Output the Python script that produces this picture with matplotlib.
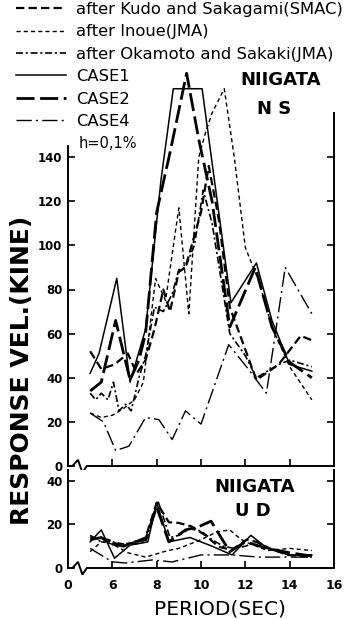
"""Response velocity spectra, NIIGATA NS / UD"""

import matplotlib.pyplot as plt
from matplotlib.lines import Line2D

plt.rcParams['font.family'] = 'DejaVu Sans'
plt.rcParams['lines.scale_dashes'] = False

# ---- NIIGATA NS (period sec, velocity kine)
ns_kudo_t = [5.0, 5.5, 6.1, 6.7, 7.1, 7.5, 7.9, 8.3, 8.6, 9.0, 9.3, 10.0, 10.35, 10.8, 11.3, 12.5, 13.5, 14.5, 15.0]
ns_kudo_v = [52, 44, 46, 51, 42, 48, 62, 80, 70, 88, 90, 115, 136, 112, 72, 39, 46, 59, 57]

ns_inoue_t = [5.0, 5.5, 6.0, 6.5, 7.0, 7.4, 7.6, 7.95, 8.4, 9.0, 9.45, 9.9, 10.2, 10.5, 11.05, 11.5, 12.0, 12.6, 13.2, 14.0, 15.0]
ns_inoue_v = [24, 22, 23, 26, 30, 38, 55, 85, 75, 117, 69, 140, 151, 160, 171, 140, 99, 84, 63, 45, 30]

ns_okamoto_t = [5.0, 5.25, 5.5, 5.8, 6.05, 6.3, 6.6, 6.85, 7.2, 7.5, 7.9, 8.3, 8.7, 9.0, 9.3, 9.7, 10.1, 10.5, 11.3, 12.0, 12.5, 13.5, 14.0, 15.0]
ns_okamoto_v = [33, 30, 33, 30, 38, 25, 28, 25, 40, 50, 72, 70, 78, 89, 90, 100, 125, 110, 60, 50, 40, 46, 48, 45]

ns_case1_t = [5.0, 5.4, 6.2, 6.8, 7.5, 8.2, 8.75, 10.05, 11.35, 12.5, 13.2, 14.0, 15.0]
ns_case1_v = [42, 51, 85, 38, 62, 130, 171, 171, 74, 92, 66, 46, 43]

ns_case2_t = [5.0, 5.5, 6.15, 6.8, 7.2, 7.5, 8.0, 8.6, 9.35, 9.9, 10.5, 11.3, 12.45, 13.2, 14.0, 15.0]
ns_case2_v = [34, 38, 66, 39, 48, 60, 115, 142, 178, 148, 120, 63, 90, 63, 47, 40]

ns_case4_t = [5.0, 5.6, 6.15, 6.75, 7.5, 8.1, 8.7, 9.3, 10.0, 11.25, 12.05, 12.95, 13.8, 15.0]
ns_case4_v = [24, 20, 7, 9, 22, 21, 12, 25, 19, 55, 45, 33, 90, 69]

# ---- NIIGATA UD
ud_kudo_t = [5.0, 5.8, 6.3, 6.9, 7.5, 8.0, 8.4, 8.55, 9.0, 9.6, 10.2, 10.8, 11.4, 12.05, 12.5, 13.1, 13.9, 14.9]
ud_kudo_v = [14, 13, 10.6, 11.5, 14, 30, 23.5, 21, 20.7, 19, 15, 9.7, 8.3, 13, 12, 9, 6, 5]

ud_inoue_t = [5.0, 5.5, 6.0, 6.7, 7.5, 8.5, 9.0, 10.0, 10.7, 11.3, 11.7, 12.0, 13.0, 14.0, 15.0]
ud_inoue_v = [7.5, 12, 11, 7, 5, 8, 9, 13, 16.5, 17.5, 14, 12, 8, 9, 8]

ud_okamoto_t = [5.0, 5.5, 6.0, 6.5, 7.0, 7.5, 8.05, 8.6, 9.0, 9.5, 10.0, 10.5, 11.0, 11.5, 12.0, 12.5, 13.0, 14.0, 15.0]
ud_okamoto_v = [15, 12, 12, 11, 11, 12, 31, 14, 15, 18, 17, 13, 10, 9, 10, 12, 9, 6, 6]

ud_case1_t = [5.0, 5.5, 6.1, 6.8, 7.6, 8.0, 8.55, 9.5, 10.5, 11.4, 12.25, 13.0, 14.0, 15.0]
ud_case1_v = [12, 17.5, 4.5, 10.5, 12, 30, 12, 14, 10, 6, 15, 9, 6, 6]

ud_case2_t = [5.0, 5.5, 6.0, 6.5, 7.0, 7.5, 8.0, 8.55, 9.3, 9.9, 10.45, 11.3, 12.0, 13.0, 14.0, 15.0]
ud_case2_v = [13, 14, 11, 10, 12, 13, 28, 12, 17.5, 19, 21.5, 7.5, 12, 9, 7, 5.5]

ud_case4_t = [5.0, 6.0, 6.6, 7.8, 8.7, 10.0, 11.4, 12.6, 15.0]
ud_case4_v = [9, 2.8, 2.3, 3.7, 2.8, 6, 6, 5, 5]

labels = [
    "after Kudo and Sakagami(SMAC)",
    "after Inoue(JMA)",
    "after Okamoto and Sakaki(JMA)",
    "CASE1",
    "CASE2",
    "CASE4",
]
styles = [
    dict(lw=1.6, dashes=(6, 3)),
    dict(lw=1.0, dashes=(3, 2.2)),
    dict(lw=1.2, dashes=(5, 2, 1.5, 2)),
    dict(lw=1.1, linestyle='-'),
    dict(lw=2.0, dashes=(13, 4)),
    dict(lw=1.0, dashes=(11, 3, 1.5, 3)),
]

ns_series = [
    (ns_kudo_t, ns_kudo_v), (ns_inoue_t, ns_inoue_v), (ns_okamoto_t, ns_okamoto_v),
    (ns_case1_t, ns_case1_v), (ns_case2_t, ns_case2_v), (ns_case4_t, ns_case4_v),
]
ud_series = [
    (ud_kudo_t, ud_kudo_v), (ud_inoue_t, ud_inoue_v), (ud_okamoto_t, ud_okamoto_v),
    (ud_case1_t, ud_case1_v), (ud_case2_t, ud_case2_v), (ud_case4_t, ud_case4_v),
]


def style_axes(ax, ymax, yticks, left_top):
    ax.set_xlim(4, 16)
    ax.set_ylim(0, ymax)
    ax.spines['top'].set_visible(False)
    ax.spines['bottom'].set_visible(False)
    ax.spines['left'].set_bounds(0, left_top)
    for s in ('left', 'right'):
        ax.spines[s].set_linewidth(1.4)
    ax.set_yticks(yticks)
    ax.tick_params(axis='y', direction='in', length=5, width=1.2, right=True,
                   labelsize=8.5, pad=4)
    ax.tick_params(axis='x', direction='in', length=5, width=1.2, labelsize=9, pad=8)
    for lab in ax.get_yticklabels() + ax.get_xticklabels():
        lab.set_fontweight('bold')
    # broken axis line with zigzag near the origin
    ax.plot([4, 4.2, 4.45, 4.65, 4.85, 16], [0, 0, 2.8, -3.0, 0, 0],
            color='black', lw=1.4, clip_on=False, solid_joinstyle='miter')


fig = plt.figure(figsize=(3.51, 6.19), dpi=100)
ax1 = fig.add_axes([68 / 351, 1 - 466 / 619, 266 / 351, 353 / 619])
ax2 = fig.add_axes([68 / 351, 1 - 568 / 619, 266 / 351, 98 / 619])

for (t, v), st in zip(ns_series, styles):
    ax1.plot(t, v, color='black', clip_on=False, **st)
for (t, v), st in zip(ud_series, styles):
    ax2.plot(t, v, color='black', clip_on=False, **st)

style_axes(ax1, 160, range(0, 141, 20), 145)
style_axes(ax2, 45, [0, 20, 40], 45)

ax1.set_xticks([6, 8, 10, 12, 14])
ax1.set_xticklabels([])
ax2.set_xticks([4, 6, 8, 10, 12, 14, 16])
ax2.set_xticklabels(['0', '6', '8', '10', '12', '14', '16'], fontweight='bold')

ax1.text(281 / 351, 1 - 80 / 619, "NIIGATA", transform=fig.transFigure,
         ha='center', va='center', fontsize=13, fontweight='bold')
ax1.text(274 / 351, 1 - 109 / 619, "N S", transform=fig.transFigure,
         ha='center', va='center', fontsize=13, fontweight='bold')
ax2.text(255 / 351, 1 - 487 / 619, "NIIGATA", transform=fig.transFigure,
         ha='center', va='center', fontsize=13, fontweight='bold')
ax2.text(253 / 351, 1 - 511 / 619, "U D", transform=fig.transFigure,
         ha='center', va='center', fontsize=13, fontweight='bold')
fig.text(108 / 351, 1 - 143 / 619, "h=0,1%", ha='center', va='center', fontsize=10.5)

fig.text(22 / 351, 1 - 370 / 619, "RESPONSE VEL.(KINE)", rotation=90,
         ha='center', va='center', fontsize=18, fontweight='bold')
fig.text(220 / 351, 1 - 609 / 619, "PERIOD(SEC)", ha='center', va='center',
         fontsize=14.5)

handles = [Line2D([], [], color='black', **st) for st in styles]
fig.legend(handles, labels, loc='upper left', bbox_to_anchor=(16 / 351, 1 - 2 / 619),
           frameon=False, fontsize=11.8, handlelength=3.05, handletextpad=0.6,
           labelspacing=0.45, borderpad=0, borderaxespad=0)

fig.savefig('out.png', dpi=100)
